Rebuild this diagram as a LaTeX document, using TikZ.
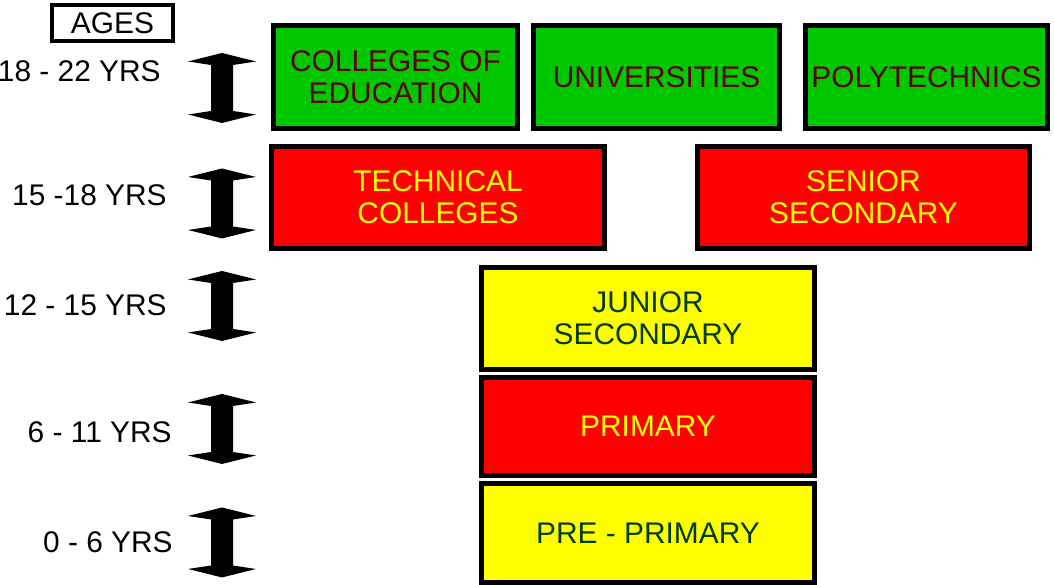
\documentclass[tikz,border=0pt]{standalone}
\usepackage{fontspec}
\setmainfont{Liberation Sans}
\definecolor{boxgreen}{HTML}{00C800}
\definecolor{boxred}{HTML}{FF0000}
\definecolor{boxyellow}{HTML}{FFFF00}
\definecolor{txtred}{HTML}{5C0000}
\definecolor{txtgreen}{HTML}{003C00}
\tikzset{
    levelbox/.style={draw=black, line width=0.1cm, align=center, inner sep=0pt,
        font=\fontsize{17}{18}\selectfont},
    higher/.style={levelbox, fill=boxgreen, text=txtred, minimum height=2.06cm},
    second/.style={levelbox, fill=boxred, text=boxyellow, minimum height=2.04cm},
    agelabel/.style={anchor=east, inner sep=0pt, font=\fontsize{17}{18}\selectfont},
    agearrow/.pic={\fill (0,0.7) -- (0.68,0.53) -- (0.22,0.46) -- (0.22,-0.46) -- (0.68,-0.53)
        -- (0,-0.7) -- (-0.68,-0.53) -- (-0.22,-0.46) -- (-0.22,0.46) -- (-0.68,0.53) -- cycle;}
}
\begin{document}
\begin{tikzpicture}
        \useasboundingbox[fill=white] (0,0) rectangle (21.08,11.7);

        % Ages heading and labels
        \node[draw, line width=0.08cm, minimum width=2.42cm, minimum height=0.72cm, inner sep=0pt,
            font=\fontsize{17}{18}\selectfont] (ages) at (2.25,11.24) {AGES};
        \node[agelabel] (age18) at (3.22,10.28) {18 - 22 YRS};
        \node[agelabel] (age15) at (3.34,7.8) {15 -18 YRS};
        \node[agelabel] (age12) at (3.34,5.6) {12 - 15 YRS};
        \node[agelabel] (age6) at (3.44,3.06) {6 - 11 YRS};
        \node[agelabel] (age0) at (3.46,0.86) {0 - 6 YRS};

        % Double arrows
        \foreach \y in {9.94,7.63,5.58,3.12,0.85}
            \pic at (4.44,\y) {agearrow};

        % Tertiary level
        \node[higher, minimum width=4.88cm] (coe) at (7.91,10.16) {COLLEGES OF\\EDUCATION};
        \node[higher, minimum width=4.92cm] (univ) at (13.13,10.16) {UNIVERSITIES};
        \node[higher, minimum width=4.84cm] (poly) at (18.53,10.16) {POLYTECHNICS};

        % Second cycle
        \node[second, minimum width=6.66cm] (tech) at (8.76,7.75) {TECHNICAL\\COLLEGES};
        \node[second, minimum width=6.64cm] (senior) at (17.27,7.75) {SENIOR\\SECONDARY};

        % Basic education
        \node[levelbox, fill=boxyellow, text=txtgreen, minimum width=6.66cm, minimum height=2.04cm]
            (junior) at (12.96,5.33) {JUNIOR\\SECONDARY};
        \node[second, minimum width=6.66cm, minimum height=1.96cm] (primary) at (12.96,3.17) {PRIMARY};
        \node[levelbox, fill=boxyellow, text=txtgreen, minimum width=6.66cm, minimum height=1.98cm]
            (prepri) at (12.96,1.04) {PRE - PRIMARY};

\end{tikzpicture}
\end{document}
